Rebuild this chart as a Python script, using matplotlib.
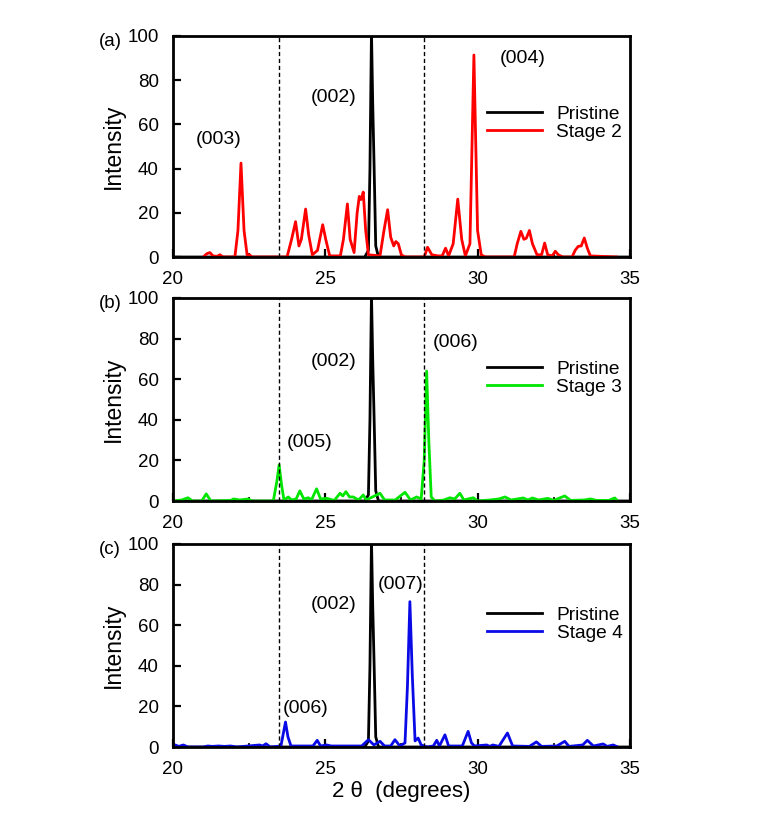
import matplotlib
matplotlib.use('Agg')
import matplotlib.pyplot as plt
from matplotlib.ticker import MultipleLocator

plt.rcParams['font.family'] = ['Liberation Sans', 'DejaVu Sans']

# pristine graphite (002) peak, same in all panels
pris_x = [20.0, 26.3, 26.42, 26.47, 26.52, 26.56, 26.6, 26.66, 26.75, 35.0]
pris_y = [0, 0, 3, 40, 102, 70, 45, 5, 0, 0]

# stage 2
s2_x = [21.0, 21.12, 21.22, 21.32, 21.45, 21.55, 21.65, 22.04, 22.14, 22.24, 22.34, 22.44, 22.52, 22.6,
        23.75, 23.9, 24.03, 24.14, 24.22, 24.36, 24.46, 24.58, 24.75, 24.92, 25.02, 25.15, 25.5, 25.6,
        25.73, 25.82, 25.95, 26.05, 26.12, 26.18, 26.25, 26.33, 26.42, 26.8, 26.93, 27.05, 27.15, 27.25,
        27.32, 27.4, 27.5, 27.62, 28.25, 28.36, 28.5, 28.7, 28.84, 28.95, 29.05, 29.2, 29.35, 29.48,
        29.6, 29.75, 29.88, 30.0, 30.12, 30.25, 31.2, 31.3, 31.42, 31.52, 31.6, 31.7, 31.8, 31.95,
        32.1, 32.2, 32.3, 32.45, 32.55, 32.65, 32.8, 33.1, 33.2, 33.3, 33.4, 33.5, 33.6, 33.7, 34.56]
s2_y = [0, 1.5, 2, 0.5, 0.3, 1, 0, 0, 12, 42.5, 12, 1, 1, 0,
        0, 8, 16, 5, 8, 21.7, 10, 1, 3, 14.6, 8, 0.5, 0.5, 8,
        24, 8, 2, 20, 27.4, 26, 29.4, 12, 1, 0.5, 12, 21.4, 9, 5,
        7, 6, 1, 0, 0, 4.4, 1, 0.5, 0.5, 4, 0.5, 6, 26.2, 8,
        0.5, 6, 91.4, 12, 1, 0, 0, 6, 11.6, 8, 8.5, 12, 6, 1,
        1, 6.3, 1, 0.5, 2.6, 1, 0, 0, 3, 4.8, 5, 8.6, 4, 0.5, 0]

# stage 3
s3_x = [20.0, 20.3, 20.5, 20.65, 20.95, 21.1, 21.25, 21.9, 22.0, 22.2, 22.48, 22.6, 23.3, 23.42, 23.49,
        23.57, 23.65, 23.79, 23.9, 24.05, 24.17, 24.3, 24.45, 24.55, 24.72, 24.85, 25.05, 25.3, 25.49,
        25.58, 25.68, 25.8, 25.92, 26.1, 26.25, 26.35, 26.8, 26.95, 27.3, 27.62, 27.8, 28.0, 28.15,
        28.25, 28.33, 28.4, 28.48, 28.6, 28.9, 29.09, 29.25, 29.42, 29.55, 29.86, 30.0, 30.4, 30.7,
        30.9, 31.1, 31.5, 31.65, 31.8, 32.0, 32.3, 32.5, 32.86, 33.05, 33.5, 33.7, 33.9, 34.3, 34.5, 34.6]
s3_y = [0, 0.5, 1.6, 0, 0, 3.5, 0, 0.3, 1, 0.5, 1, 0, 0, 10, 17.8,
        8, 0.5, 2, 0.5, 1, 5, 1, 1.6, 0.5, 6, 1, 1.3, 0.3, 3.8,
        2.5, 4.6, 2, 2, 0.5, 3, 0.5, 3.8, 0.5, 0.5, 4.3, 0.5, 2, 1,
        20, 64, 30, 2, 0, 0.5, 1.6, 1, 3.8, 0.5, 1.6, 0, 0.5, 1,
        2, 0.5, 1.5, 0.5, 1.5, 0.5, 1.3, 0.3, 2.5, 0.3, 0.5, 1, 0.3, 0.3, 1.5, 0]

# stage 4
s4_x = [20.0, 20.08, 20.2, 20.35, 20.5, 21.0, 21.15, 21.3, 21.5, 21.7, 21.9, 22.1, 22.85, 22.95, 23.06,
        23.2, 23.55, 23.62, 23.7, 23.78, 23.88, 24.6, 24.74, 24.85, 25.05, 25.2, 26.2, 26.42, 26.6,
        26.8, 26.95, 27.15, 27.29, 27.45, 27.62, 27.7, 27.78, 27.86, 27.95, 28.05, 28.15, 28.35, 28.55,
        28.66, 28.75, 28.93, 29.05, 29.5, 29.69, 29.8, 29.9, 30.3, 30.4, 30.5, 30.7, 30.98, 31.15,
        31.7, 31.93, 32.1, 32.6, 32.86, 33.0, 33.45, 33.6, 33.8, 34.12, 34.25, 34.45, 34.6]
s4_y = [1, 1, 0.3, 1, 0, 0, 0.5, 0.3, 0.5, 0.3, 0.5, 0, 1, 0.5, 1.6,
        0, 0.5, 6, 12.3, 5, 0.5, 0.5, 3.3, 0.5, 1, 0.5, 0.5, 3.6, 1,
        2.8, 0.5, 0.5, 3.6, 0.5, 2, 30, 71.6, 35, 3, 4.4, 1, 0, 0.5,
        3.3, 0.5, 6, 0.5, 0.5, 7.7, 2, 0.5, 1, 0.3, 1, 0.3, 6.9, 0.5,
        0.3, 2.5, 0.3, 0.5, 2.8, 0.3, 1, 3.3, 0.5, 1.5, 0.3, 1, 0]

dash_x = [23.5, 28.25]

panels = [
    ('(a)', 'Stage 2', 'red', s2_x, s2_y,
     [('(003)', 21.5, 53), ('(002)', 25.27, 72), ('(004)', 31.47, 90)]),
    ('(b)', 'Stage 3', '#00e600', s3_x, s3_y,
     [('(002)', 25.27, 68.5), ('(006)', 29.27, 78), ('(005)', 24.5, 28.6)]),
    ('(c)', 'Stage 4', '#0a0ae6', s4_x, s4_y,
     [('(002)', 25.27, 70), ('(007)', 27.47, 80), ('(006)', 24.35, 19)]),
]

W, H = 776, 815
fig = plt.figure(figsize=(W / 100, H / 100), dpi=100)
# axes boxes in pixels: (top, bottom)
boxes = [(36, 257), (298, 501), (544, 747)]
left, right = 172.7, 630

for (tag, lab, col, xs, ys, notes), (top, bot) in zip(panels, boxes):
    ax = fig.add_axes([left / W, 1 - bot / H, (right - left) / W, (bot - top) / H])
    ax.plot(pris_x, pris_y, color='black', lw=2, label='Pristine')
    ax.plot(xs, ys, color=col, lw=2, label=lab)
    for xd in dash_x:
        ax.axvline(xd, color='black', lw=1, ls=(0, (3, 2)))
    for txt, tx, ty in notes:
        ax.text(tx, ty, txt, ha='center', va='center', fontsize=14)
    ax.set_xlim(20, 35)
    ax.set_ylim(0, 100)
    ax.xaxis.set_major_locator(MultipleLocator(5))
    ax.xaxis.set_minor_locator(MultipleLocator(2.5))
    ax.yaxis.set_major_locator(MultipleLocator(20))
    ax.tick_params(axis='both', which='major', direction='in', length=6, width=1.6, labelsize=13.5)
    ax.tick_params(axis='x', which='minor', direction='in', length=3, width=1.2)
    ax.tick_params(axis='x', pad=10)
    ax.tick_params(axis='y', pad=10)
    for sp in ax.spines.values():
        sp.set_linewidth(2)
    ax.set_ylabel('Intensity', fontsize=16.5, labelpad=2)
    ax.legend(loc='center right', bbox_to_anchor=(1.0, 0.606), frameon=False, fontsize=13.8,
              handlelength=2.9, handletextpad=0.75, labelspacing=0.05, borderaxespad=0.0)
    fig.text(110 / W, 1 - 41 / H - (top - 36) / H, tag, ha='center', va='center', fontsize=13.5)
    last = ax

last.set_xlabel('2 θ  (degrees)', fontsize=16, labelpad=2)

fig.savefig('out.png', dpi=100)
